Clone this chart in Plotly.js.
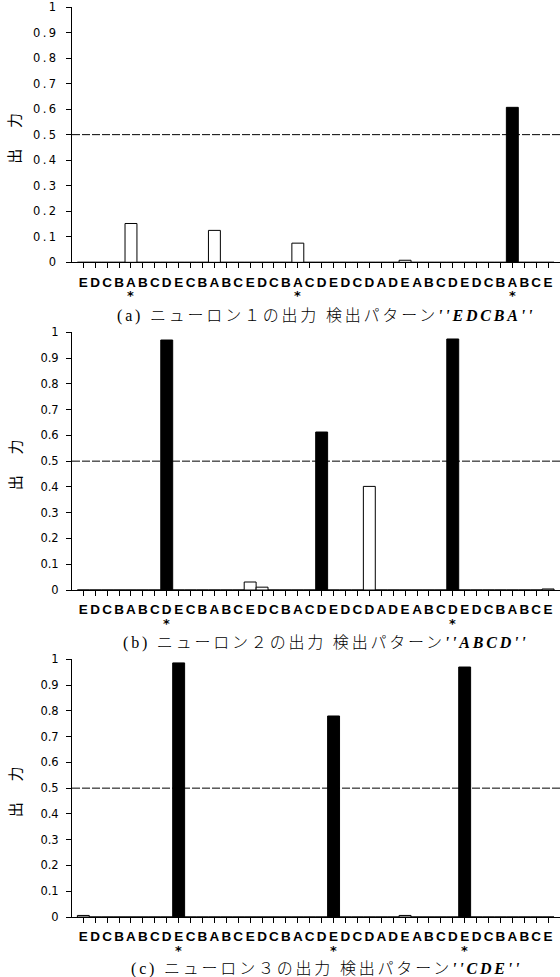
<!DOCTYPE html>
<html>
<head>
<meta charset="utf-8">
<script src="https://cdn.plot.ly/plotly-3.0.1.min.js"></script>
<style>
  html, body { margin: 0; padding: 0; background: #fff; }
  #chart { width: 560px; height: 977px; }
  .annotation-text { letter-spacing: 2.8px; }
  .ytick text { letter-spacing: 2.5px; }
</style>
</head>
<body>
<div id="chart"></div>
<script>
// Input sequence (category labels along the x axis)
const labels = ["E","D","C","B","A","B","C","D","E","C","B","A","B","C","E","D","C","B","A","C",
                "D","E","D","C","D","A","D","E","A","B","C","D","E","D","C","B","A","B","C","E"];

// Neuron outputs (one value per input position)
const neuron1 = [0,0,0,0,0.152,0,0,0,0,0,0,0.125,0,0,0,0,0,0,0.075,0,
                 0,0,0,0,0,0,0,0.008,0,0,0,0,0,0,0,0,0.607,0,0,0];
const neuron2 = [0,0,0,0,0,0,0,0.970,0,0,0,0,0,0,0.031,0.011,0,0,0,0,
                 0.613,0,0,0,0.402,0,0,0,0,0,0,0.974,0,0,0,0,0,0,0,0.004];
const neuron3 = [0.006,0,0,0,0,0,0,0,0.986,0,0,0,0,0,0,0,0,0,0,0,
                 0,0.780,0,0,0,0,0,0.006,0,0,0,0,0.970,0,0,0,0,0,0,0];

// Positions (0-based) where the detection pattern ends (marked with *)
const marks1 = [4, 18, 36];
const marks2 = [7, 31];
const marks3 = [8, 21, 32];

const threshold = 0.5;

const captions = [
  "(a) ニューロン１の出力 検出パターン<b><i>''EDCBA''</i></b>",
  "(b) ニューロン２の出力 検出パターン<b><i>''ABCD''</i></b>",
  "(c) ニューロン３の出力 検出パターン<b><i>''CDE''</i></b>"
];
const yTitle = "出　力";
const yTickVals = [0,0.1,0.2,0.3,0.4,0.5,0.6,0.7,0.8,0.9,1];
const yTickText = ["0","0.1","0.2","0.3","0.4","0.5","0.6","0.7","0.8","0.9","1"];

const series = [neuron1, neuron2, neuron3];
const marks = [marks1, marks2, marks3];

const H = 977, W = 560, L = 72;
// pixel positions of y=1 and y=0 for each panel
const panelPx = [[7, 262.3], [332.3, 590], [659.3, 917]];
const captionGap = [54, 53, 52];

const xs = labels.map((_, i) => i);
const data = [];
const layout = {
  width: W, height: H,
  margin: {l: L, r: 0, t: 0, b: 0},
  paper_bgcolor: '#fff', plot_bgcolor: '#fff',
  showlegend: false,
  bargap: 0,
  shapes: [], annotations: []
};

series.forEach((vals, k) => {
  const sfx = k === 0 ? '' : String(k + 1);
  data.push({
    type: 'bar', x: xs, y: vals, width: 1,
    xaxis: 'x' + sfx, yaxis: 'y' + sfx,
    marker: {
      color: vals.map(v => v > threshold ? '#000' : '#fff'),
      line: {color: '#000', width: 1}
    },
    hoverinfo: 'skip'
  });
  const [top, bot] = panelPx[k];
  const dom = [1 - bot / H, 1 - top / H];
  layout['xaxis' + sfx] = {
    domain: [0, 1], anchor: 'y' + sfx, range: [-0.95, 40.0],
    tickmode: 'array', tickvals: xs, ticktext: labels, tickangle: 0,
    ticks: 'outside', ticklen: 5, tickcolor: '#000', tickwidth: 1,
    showline: true, linecolor: '#000', linewidth: 1,
    showgrid: false, zeroline: false, fixedrange: true,
    tickfont: {family: 'Liberation Sans', size: 13.5, weight: 'bold', color: '#000'},
    ticklabelstandoff: 2
  };
  layout['yaxis' + sfx] = {
    domain: dom, anchor: 'x' + sfx, range: [0, 1],
    tickmode: 'array', tickvals: yTickVals, ticktext: yTickText,
    ticks: 'outside', ticklen: 5, tickcolor: '#000', tickwidth: 1,
    showline: true, linecolor: '#000', linewidth: 1,
    showgrid: false, zeroline: false, fixedrange: true,
    ticklabeloverflow: 'allow',
    tickfont: {family: 'DejaVu Sans', size: 11.5, color: '#000'},
    ticklabelstandoff: 5
  };
  layout.shapes.push({
    type: 'line', xref: 'x' + sfx + ' domain', x0: 0, x1: 1.05,
    yref: 'y' + sfx, y0: threshold, y1: threshold,
    line: {color: '#000', width: 1, dash: '8px,2px'}
  });
  // y-axis title
  layout.annotations.push({
    text: yTitle, xref: 'paper', x: (14 - L) / (W - L), xanchor: 'center',
    yref: 'paper', y: 1 - ((top + bot) / 2 + 3) / H, yanchor: 'middle',
    textangle: -90, showarrow: false,
    font: {family: 'Noto Sans CJK JP', size: 15, color: '#000'}
  });
  // asterisks under detected positions
  marks[k].forEach(m => {
    layout.annotations.push({
      text: '<b>*</b>', xref: 'x' + sfx, x: m, yref: 'y' + sfx, y: 0,
      yanchor: 'middle', xanchor: 'center', xshift: 1.5, yshift: -33, showarrow: false,
      font: {family: 'DejaVu Sans', size: 13, color: '#000'}
    });
  });
  // caption
  layout.annotations.push({
    text: captions[k], xref: 'paper', x: (326 - L) / (W - L), xanchor: 'center',
    yref: 'paper', y: 1 - (bot + captionGap[k]) / H, yanchor: 'middle',
    showarrow: false,
    font: {family: 'Liberation Serif, Noto Sans CJK JP', size: 16, weight: 300, color: '#000'}
  });
});

Plotly.newPlot('chart', data, layout, {staticPlot: true, displayModeBar: false});
</script>
</body>
</html>
